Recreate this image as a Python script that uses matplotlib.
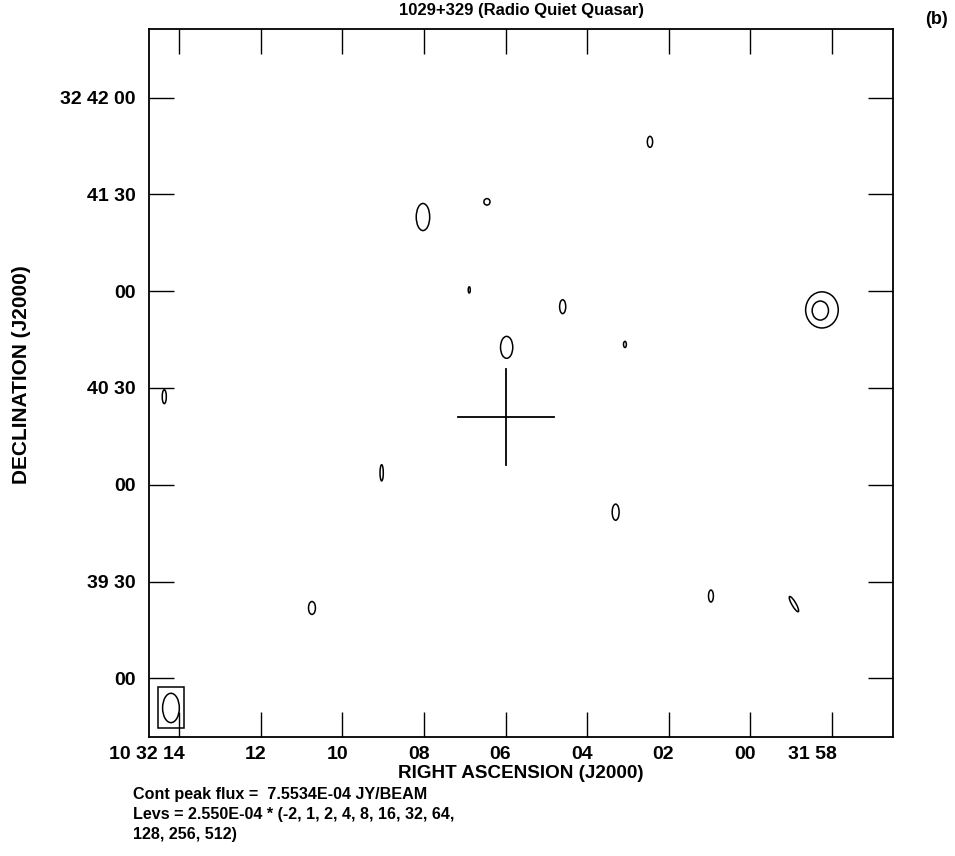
import numpy as np
import matplotlib
matplotlib.use('Agg')
import matplotlib.pyplot as plt
from matplotlib.patches import Ellipse, Rectangle
from matplotlib.transforms import ScaledTranslation

plt.rcParams['font.family'] = ['Liberation Sans', 'DejaVu Sans']
plt.rcParams['font.weight'] = 'bold'

# RA in seconds relative to 10 32 00, Dec in arcsec relative to 32 40 00
ra_ticks = [14, 12, 10, 8, 6, 4, 2, 0, -2]
ra_labels = ['10 32 14', '12', '10', '08', '06', '04', '02', '00', '31 58']
dec_ticks = [120, 90, 60, 30, 0, -30, -60]
dec_labels = ['32 42 00', '41 30', '00', '40 30', '00', '39 30', '00']

# contour blobs: centre (ra s, dec arcsec), size (ra s, dec arcsec), angle deg
src_ra = [2.457, 6.455, 8.024, 6.889, 4.598, -1.76, -1.72, 5.972, 3.071,
          14.368, 9.037, 3.299, 10.746, 0.962, -1.073]
src_dec = [106.3, 87.7, 83.0, 60.4, 55.2, 54.2, 54.0, 42.6, 43.5,
           27.3, 3.7, -8.5, -38.2, -34.5, -37.0]
src_w = [0.13, 0.15, 0.33, 0.05, 0.15, 0.80, 0.40, 0.30, 0.07,
         0.10, 0.08, 0.17, 0.17, 0.12, 0.10]
src_h = [3.4, 2.0, 8.4, 1.9, 4.3, 11.2, 5.9, 6.8, 1.9,
         4.3, 5.0, 5.0, 4.0, 3.7, 5.4]
src_ang = [0, 0, 0, 0, 0, 0, 0, 0, 0, 0, 0, 0, 0, 0, -30]

# clean beam and its box
beam_ra, beam_dec, beam_w, beam_h = 14.204, -69.2, 0.41, 9.1
box_ra, box_dec, box_w, box_h = 13.892, -75.5, 0.623, 12.7

# quasar position cross
qso_ra, qso_dec = 5.989, 21.0
cross_dra, cross_ddec = 1.177, 15.0

ra_lim = (14.736, -3.496)
dec_lim = (-78.1, 141.2)

# seconds of RA -> arcsec on the sky
k = 15 * np.cos(np.radians(32 + 40 / 60))

fig = plt.figure(figsize=(9.55, 8.56), dpi=100)
ax = fig.add_axes([0.1563, 0.1394, 0.7785, 0.8264])
ax.set_xlim(ra_lim[0] * k, ra_lim[1] * k)
ax.set_ylim(dec_lim)

for r, d, w, h, a in zip(src_ra, src_dec, src_w, src_h, src_ang):
    ax.add_patch(Ellipse((r * k, d), w * k, h, angle=a, fill=False, color='black', lw=1.1))

ax.add_patch(Ellipse((beam_ra * k, beam_dec), beam_w * k, beam_h, fill=False, color='black', lw=1.1))
ax.add_patch(Rectangle((box_ra * k, box_dec), box_w * k, box_h, fill=False, color='black', lw=1.1))

ax.plot([(qso_ra - cross_dra) * k, (qso_ra + cross_dra) * k], [qso_dec, qso_dec], color='black', lw=1.3)
ax.plot([qso_ra * k, qso_ra * k], [qso_dec - cross_ddec, qso_dec + cross_ddec], color='black', lw=1.3)

ax.set_xticks([t * k for t in ra_ticks])
ax.set_xticklabels(ra_labels)
ax.set_yticks(dec_ticks)
ax.set_yticklabels(dec_labels)
ax.tick_params(direction='in', length=18, width=1.0, top=True, right=True, labelsize=14)
ax.tick_params(axis='x', pad=7)
ax.tick_params(axis='y', pad=10)
shift = ScaledTranslation(0.055, 0, fig.dpi_scale_trans)
for lbl in ax.get_xticklabels():
    lbl.set_ha('right')
    lbl.set_transform(lbl.get_transform() + shift)
for s in ax.spines.values():
    s.set_linewidth(1.3)

fig.text(0.5455, 1 - 774 / 856, 'RIGHT ASCENSION (J2000)', fontsize=13.6, fontweight='bold',
         ha='center', va='center')
fig.text(22 / 955, 1 - 375 / 856, 'DECLINATION (J2000)', fontsize=15, fontweight='bold',
         rotation=90, ha='center', va='center')
ax.set_title('1029+329 (Radio Quiet Quasar)', fontsize=12, fontweight='bold', pad=10)
fig.text(0.993, 0.977, '(b)', fontsize=13, fontweight='bold', ha='right', va='center')

fig.text(0.139, 1 - 795 / 856, 'Cont peak flux =  7.5534E-04 JY/BEAM', fontsize=11.6, fontweight='bold', va='center')
fig.text(0.139, 1 - 815 / 856, 'Levs = 2.550E-04 * (-2, 1, 2, 4, 8, 16, 32, 64,', fontsize=11.6, fontweight='bold', va='center')
fig.text(0.139, 1 - 835 / 856, '128, 256, 512)', fontsize=11.6, fontweight='bold', va='center')

fig.savefig('out.png', dpi=100)
